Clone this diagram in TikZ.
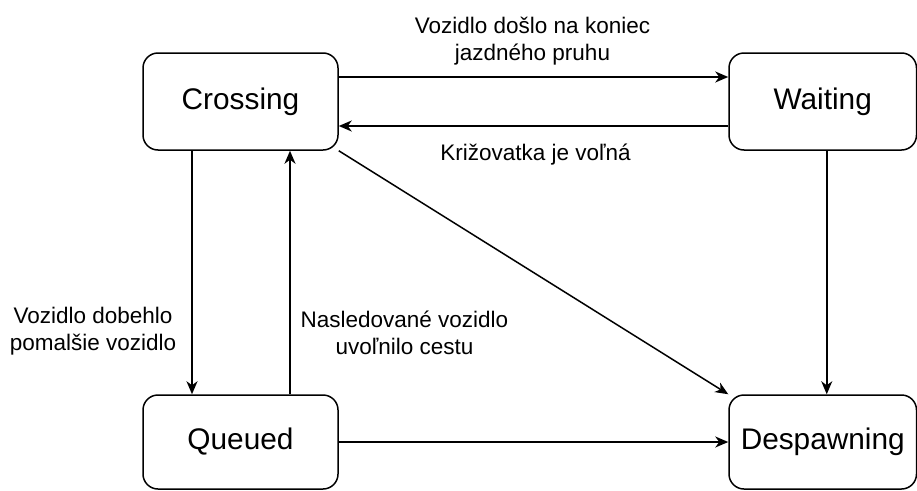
\documentclass[tikz,border=0pt]{standalone}
\usepackage{fontspec}
\setmainfont{Liberation Sans}
\usetikzlibrary{arrows.meta,calc}
\begin{document}
\begin{tikzpicture}[x=1pt,y=-1pt,
  state/.style={draw,line width=1.5pt,rounded corners=15pt,inner sep=0pt,
    font=\fontsize{29.8}{34}\selectfont},
  edge/.style={line width=1.5pt,-{Stealth[length=13pt,width=11pt,inset=4pt]}},
  lbl/.style={align=center,inner sep=0pt,font=\fontsize{22.5}{27}\selectfont}]
\useasboundingbox (0,0) rectangle (917,490);
\begin{scope}
\clip (0,0) rectangle (917,490);
\node[state,minimum width=195pt,minimum height=97pt] (c) at (240.5,101.5) {Crossing};
\node[state,minimum width=187.5pt,minimum height=97pt] (w) at (822.75,101.5) {Waiting};
\node[state,minimum width=195pt,minimum height=94pt] (q) at (240.5,442) {Queued};
\node[state,minimum width=187.5pt,minimum height=94pt] (d) at (822.75,442) {Despawning};
\end{scope}

\draw[edge] ($(c.east)+(0,-24.5)$) -- ($(w.west)+(0,-24.5)$);
\draw[edge] ($(w.west)+(0,24.5)$) -- ($(c.east)+(0,24.5)$);
\draw[edge] ($(c.south)+(-48.5,0)$) -- ($(q.north)+(-48.5,0)$);
\draw[edge] ($(q.north)+(49.5,0)$) -- ($(c.south)+(49.5,0)$);
\draw[edge] (c.south east) -- (d.north west);
\draw[edge] ($(w.south)+(4,0)$) -- ($(d.north)+(4,0)$);
\draw[edge] (q.east) -- (d.west);

\node[lbl] (l1) at (532.5,41) {Vozidlo došlo na koniec\\jazdného pruhu};
\node[lbl] (l2) at (535.5,155) {Križovatka je voľná};
\node[lbl] (l3) at (93,331) {Vozidlo dobehlo\\pomalšie vozidlo};
\node[lbl] (l4) at (404.5,333) {Nasledované vozidlo\\uvoľnilo cestu};
\end{tikzpicture}
\end{document}
